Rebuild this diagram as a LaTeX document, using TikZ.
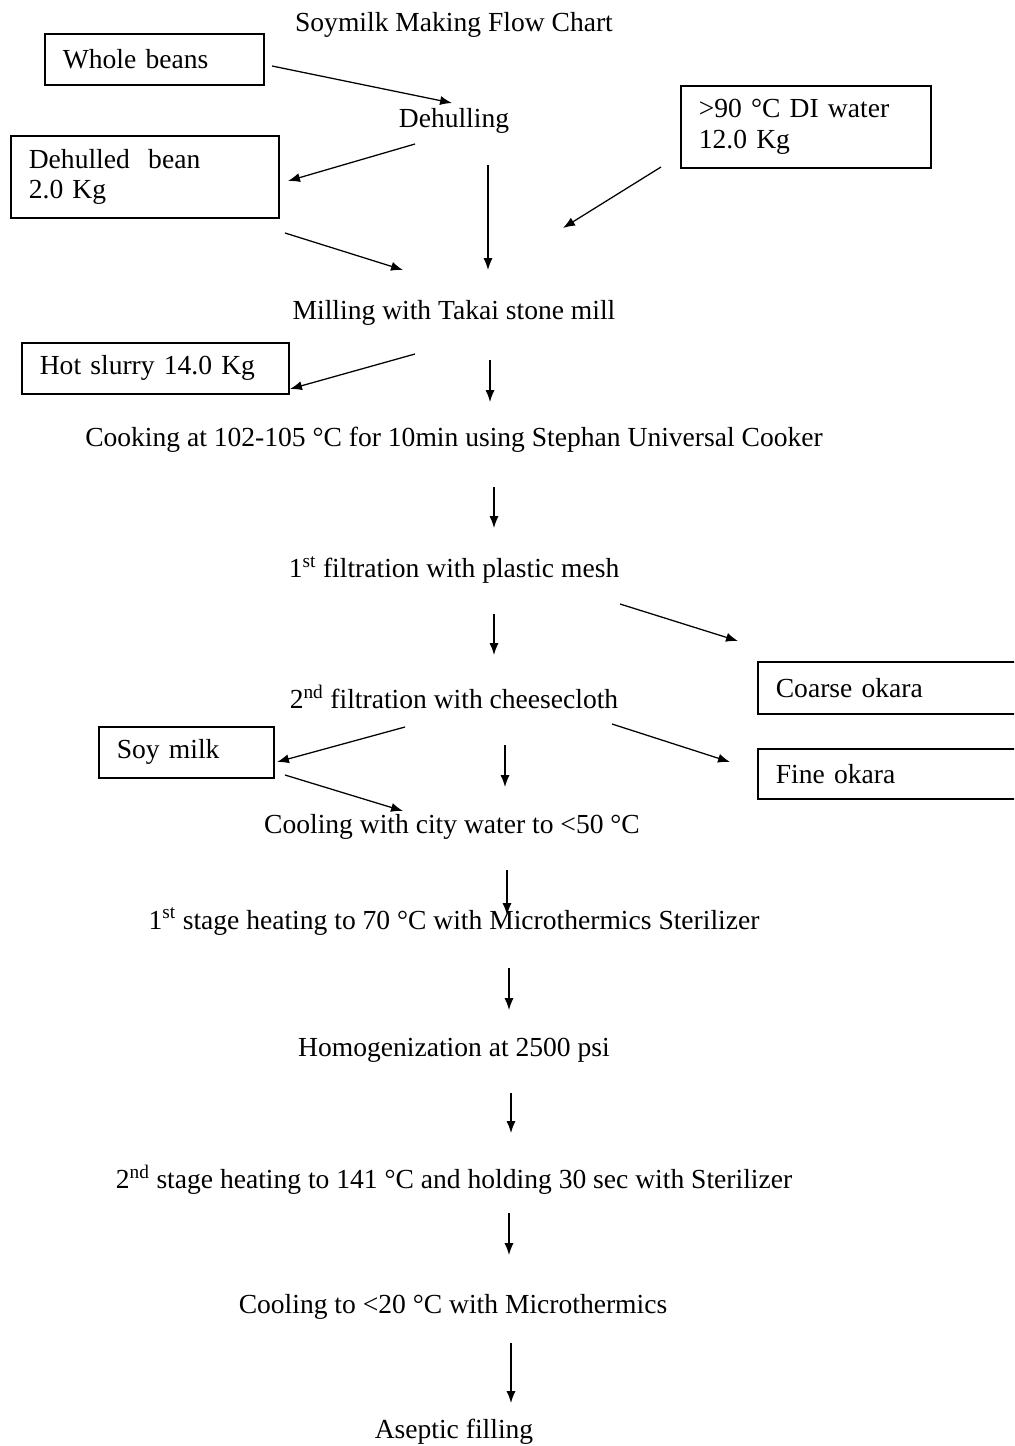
\documentclass[tikz,border=0pt]{standalone}
\usepackage{fontspec}
\setmainfont{Liberation Serif}
\usetikzlibrary{arrows.meta}
\newcommand{\flowfont}{\fontsize{19.6}{21.5}\selectfont}

\begin{document}
\begin{tikzpicture}
    [
        x=0.025cm, y=-0.025cm,
        stage/.style = {shape=rectangle, inner sep=0pt, yshift=-0.07cm, font=\flowfont},
        box/.style = {draw, shape=rectangle, anchor=north west, align=left, line width=1.2pt, inner xsep=0.45cm, inner ysep=0pt, font=\flowfont},
        flow/.style = {-{Latex[length=8.5pt,width=6.5pt]}, line width=0.9pt},
    ]

    \clip (0,0) rectangle (1014,1446);

    % main line
    \node[stage] (title) at (454,22)   {Soymilk Making Flow Chart};
    \node[stage] (dehull) at (454,118) {Dehulling};
    \node[stage] (mill) at (454,310)   {Milling with Takai stone mill};
    \node[stage] (cook) at (454,437)   {Cooking at 102-105 °C for 10min using Stephan Universal Cooker};
    \node[stage] (filta) at (454,567)  {1\textsuperscript{st} filtration with plastic mesh};
    \node[stage] (filtb) at (454,694)  {2\textsuperscript{nd} filtration with cheesecloth};
    \node[stage] (coola) at (452,824)  {Cooling with city water to <50 °C};
    \node[stage] (heata) at (454,919)  {1\textsuperscript{st} stage heating to 70 °C with Microthermics Sterilizer};
    \node[stage] (homog) at (454,1047) {Homogenization at 2500 psi};
    \node[stage] (heatb) at (454,1177) {2\textsuperscript{nd} stage heating to 141 °C and holding 30 sec with Sterilizer};
    \node[stage] (coolb) at (453,1304) {Cooling to <20 °C with Microthermics};
    \node[stage] (fill) at (454,1429)  {Aseptic filling};

    % side boxes
    \node[box, text width=4.575cm, minimum height=1.275cm] (wb) at (44,33)   {Whole beans};
    \node[box, text width=5.8cm, minimum height=2.05cm]    (db) at (10,135)  {Dehulled\ \ bean\\2.0 Kg};
    \node[box, text width=5.35cm, minimum height=2.05cm]   (dw) at (680,85)  {>90 °C DI water\\12.0 Kg};
    \node[box, text width=5.775cm, minimum height=1.275cm] (hs) at (21,342)  {Hot slurry 14.0 Kg};
    \node[box, text width=3.475cm, minimum height=1.275cm] (sm) at (98,726)  {Soy milk};
    \node[box, text width=5.925cm, minimum height=1.3cm]   (co) at (757,661) {Coarse okara};
    \node[box, text width=5.925cm, minimum height=1.25cm]  (fo) at (757,748) {Fine okara};

    % arrow ends
    \coordinate (wb0) at (272,66);  \coordinate (wb1) at (452,103);
    \coordinate (db0) at (415,144); \coordinate (db1) at (288,181);
    \coordinate (dh0) at (488,165); \coordinate (dh1) at (488,270);
    \coordinate (db2) at (285,233); \coordinate (db3) at (403,270);
    \coordinate (dw0) at (661,167); \coordinate (dw1) at (563,228);
    \coordinate (hs0) at (415,354); \coordinate (hs1) at (290,389);
    \coordinate (ml0) at (490,360); \coordinate (ml1) at (490,402);
    \coordinate (ck0) at (494,487); \coordinate (ck1) at (494,528);
    \coordinate (fa0) at (494,614); \coordinate (fa1) at (494,655);
    \coordinate (co0) at (620,604); \coordinate (co1) at (738,641);
    \coordinate (sm0) at (405,727); \coordinate (sm1) at (277,762);
    \coordinate (fo0) at (612,724); \coordinate (fo1) at (730,762);
    \coordinate (fb0) at (505,745); \coordinate (fb1) at (505,787);
    \coordinate (sm2) at (285,775); \coordinate (sm3) at (403,811);
    \coordinate (ca0) at (507,870); \coordinate (ca1) at (507,915);
    \coordinate (ha0) at (509,968); \coordinate (ha1) at (509,1010);
    \coordinate (hm0) at (511,1093); \coordinate (hm1) at (511,1133);
    \coordinate (hb0) at (509,1213); \coordinate (hb1) at (509,1255);
    \coordinate (cb0) at (511,1343); \coordinate (cb1) at (511,1403);

    \draw [flow] (wb0) -- (wb1);
    \draw [flow] (db0) -- (db1);
    \draw [flow] (dh0) -- (dh1);
    \draw [flow] (db2) -- (db3);
    \draw [flow] (dw0) -- (dw1);
    \draw [flow] (hs0) -- (hs1);
    \draw [flow] (ml0) -- (ml1);
    \draw [flow] (ck0) -- (ck1);
    \draw [flow] (fa0) -- (fa1);
    \draw [flow] (co0) -- (co1);
    \draw [flow] (sm0) -- (sm1);
    \draw [flow] (fo0) -- (fo1);
    \draw [flow] (fb0) -- (fb1);
    \draw [flow] (sm2) -- (sm3);
    \draw [flow] (ca0) -- (ca1);
    \draw [flow] (ha0) -- (ha1);
    \draw [flow] (hm0) -- (hm1);
    \draw [flow] (hb0) -- (hb1);
    \draw [flow] (cb0) -- (cb1);
\end{tikzpicture}
\end{document}
